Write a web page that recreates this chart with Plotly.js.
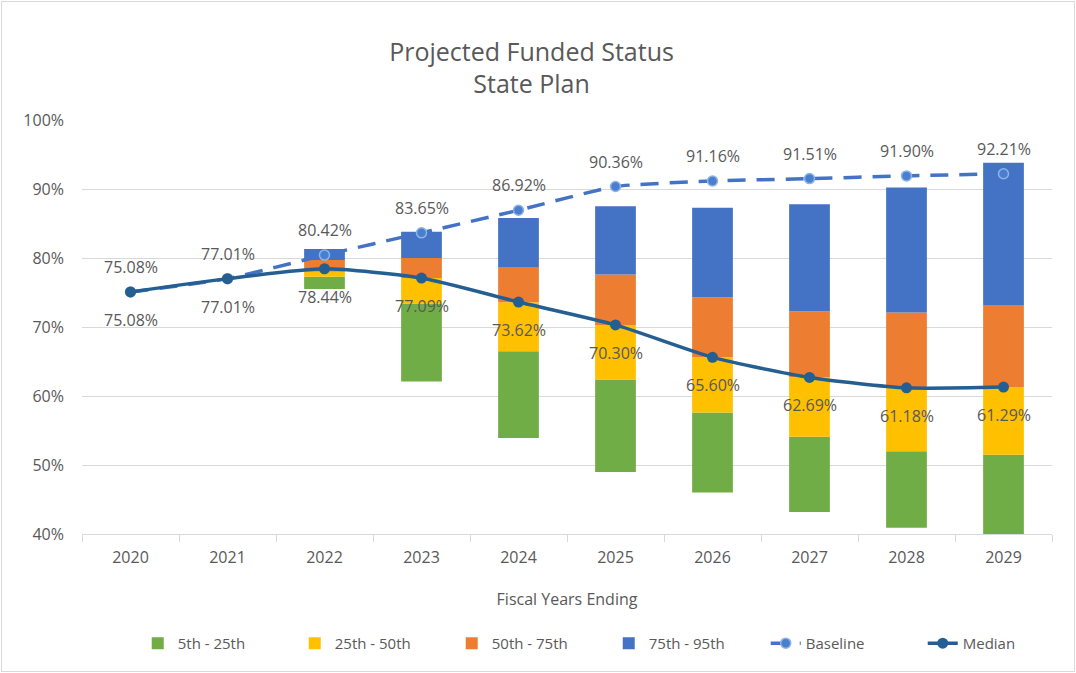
<!DOCTYPE html>
<html>
<head>
<meta charset="utf-8">
<script src="https://cdn.plot.ly/plotly-3.0.1.min.js"></script>
<style>
  html, body { margin: 0; padding: 0; background: #fff; }
  #wrap { position: relative; width: 1076px; height: 673px; }
  #chart { width: 1076px; height: 673px; }
  #frame { position: absolute; left: 1px; top: 1px; width: 1072px; height: 669px; border: 1px solid #d9d9d9; pointer-events: none; }
</style>
</head>
<body>
<div id="wrap"><div id="chart"></div><div id="frame"></div></div>
<script>
// ---- data (percent) ----
const years = ['2020','2021','2022','2023','2024','2025','2026','2027','2028','2029'];
const p5  = [null, null, 75.5, 62.1, 53.9, 49.0, 46.0, 43.2, 40.9, 40.0];
const p25 = [null, null, 77.3, 73.4, 66.5, 62.4, 57.6, 54.1, 52.0, 51.5];
const p50 = [null, null, 78.0, 77.1, 73.6, 70.3, 65.6, 62.7, 61.2, 61.3];
const p75 = [null, null, 79.7, 80.0, 78.7, 77.6, 74.3, 72.3, 72.1, 73.2];
const p95 = [null, null, 81.3, 83.8, 85.8, 87.5, 87.3, 87.8, 90.2, 93.8];
const baseline = [75.08, 77.01, 80.42, 83.65, 86.92, 90.36, 91.16, 91.51, 91.90, 92.21];
const median   = [75.08, 77.01, 78.44, 77.09, 73.62, 70.30, 65.60, 62.69, 61.18, 61.29];
const bandNames = ['5th - 25th', '25th - 50th', '50th - 75th', '75th - 95th'];
const bandColors = ['#70AD47', '#FFC000', '#ED7D31', '#4472C4'];

const lows = [p5, p25, p50, p75];
const highs = [p25, p50, p75, p95];
const FONT = '"Open Sans", "DejaVu Sans", sans-serif';
const GREY = '#595959';

const traces = [];
for (let b = 0; b < 4; b++) {
  traces.push({
    type: 'bar',
    name: bandNames[b],
    x: years,
    base: lows[b],
    y: highs[b].map((h, i) => (h === null || lows[b][i] === null) ? null : h - lows[b][i]),
    marker: { color: bandColors[b] },
    hoverinfo: 'skip'
  });
}
traces.push({
  type: 'scatter', mode: 'lines+markers', name: 'Baseline',
  x: years, y: baseline,
  line: { color: '#4472C4', width: 3.5, dash: '18px,11px', shape: 'spline', smoothing: 0.5 },
  marker: { color: '#4a7fd0', size: 10, line: { color: '#8db4e6', width: 1.5 } }
});
traces.push({
  type: 'scatter', mode: 'lines+markers', name: 'Median',
  x: years, y: median,
  line: { color: '#255E91', width: 3.5, shape: 'spline', smoothing: 0.6 },
  marker: { color: '#255E91', size: 11 }
});

const annotations = [];
years.forEach((yr, i) => {
  annotations.push({ x: i, y: baseline[i], xref: 'x', yref: 'y', text: baseline[i].toFixed(2) + '%',
    showarrow: false, yshift: 25, font: { family: FONT, size: 16, color: GREY } });
  annotations.push({ x: i, y: median[i], xref: 'x', yref: 'y', text: median[i].toFixed(2) + '%',
    showarrow: false, yshift: -28, font: { family: FONT, size: 16, color: GREY } });
});

const layout = {
  width: 1076, height: 673,
  margin: { l: 82, r: 24, t: 120, b: 139 },
  paper_bgcolor: '#fff', plot_bgcolor: '#fff',
  font: { family: FONT, color: GREY, size: 16 },
  title: {
    text: 'Projected Funded Status<br>State Plan',
    xref: 'container', x: 0.494, xanchor: 'center',
    yref: 'container', y: 0.91, yanchor: 'middle',
    font: { family: FONT, size: 25, color: GREY }
  },
  barmode: 'overlay',
  bargap: 0.58,
  showlegend: true,
  legend: {
    orientation: 'h',
    xref: 'container', x: 0.128, xanchor: 'left',
    yref: 'container', y: 0.044, yanchor: 'middle',
    entrywidth: 112, entrywidthmode: 'pixels',
    font: { family: FONT, size: 15, color: GREY }, traceorder: 'normal'
  },
  xaxis: {
    type: 'category',
    range: [-0.5, years.length - 0.5], autorange: false,
    title: { text: 'Fiscal Years Ending', font: { family: FONT, size: 16, color: GREY }, standoff: 26 },
    tickfont: { family: FONT, size: 16, color: GREY },
    tickangle: 0, ticklabelstandoff: 9,
    showline: true, linecolor: '#d9d9d9', linewidth: 1,
    ticks: 'outside', tickson: 'boundaries', ticklen: 7, tickcolor: '#d9d9d9',
    showgrid: false, zeroline: false
  },
  yaxis: {
    range: [40, 100], autorange: false, dtick: 10, ticksuffix: '%',
    tickfont: { family: FONT, size: 16, color: GREY },
    showgrid: true, gridcolor: '#d9d9d9', gridwidth: 1,
    zeroline: false, showline: false, ticks: '', ticklabelstandoff: 17
  },
  annotations: annotations
};

Plotly.newPlot('chart', traces, layout, { displayModeBar: false, staticPlot: true });
</script>
</body>
</html>
